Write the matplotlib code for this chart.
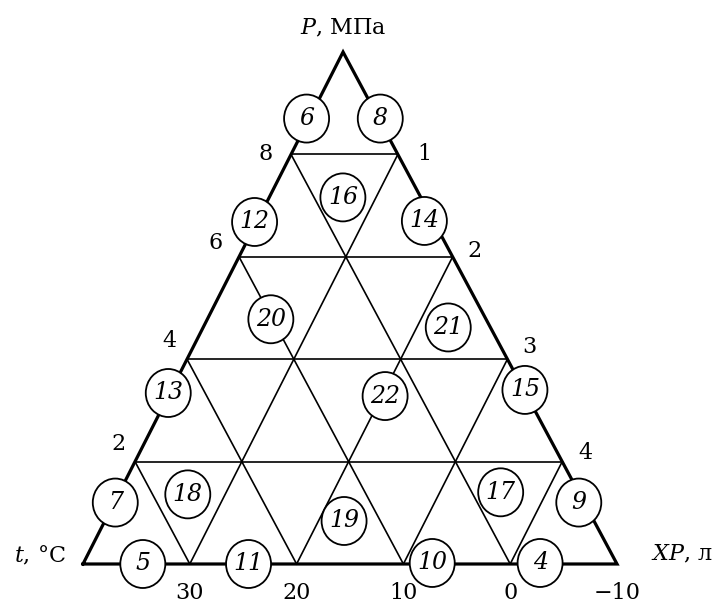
import matplotlib
matplotlib.use('Agg')
import matplotlib.pyplot as plt
from matplotlib.patches import Ellipse
from matplotlib.transforms import Affine2D

plt.rcParams['font.family'] = ['DejaVu Serif']
plt.rcParams['mathtext.fontset'] = 'dejavuserif'

# Triangle grid: 5 divisions on each side
n_div = 5
bottom_labels = ['30', '20', '10', '0', '\u221210']   # t axis, at x = 1..5
left_labels = ['2', '4', '6', '8']                     # P axis, rows 1..4
right_labels = ['4', '3', '2', '1']                    # XP axis, rows 1..4
title_top = r'$P$, МПа'
title_left = r'$t$, °C'
title_right = r'$XP$, л'

# Numbered zones (circle labels) and where they sit, in grid units
zone_ids = [5, 11, 10, 4, 7, 13, 12, 6, 8, 14, 15, 9, 18, 19, 17, 16, 20, 21, 22]
zone_x = [0.56, 1.55, 3.27, 4.28, 0.31, 0.82, 1.65, 2.15, 2.84, 3.24, 4.16, 4.65,
          0.99, 2.45, 3.92, 2.48, 1.79, 3.45, 2.85]
zone_y = [0.0, 0.0, 0.01, 0.01, 0.60, 1.67, 3.34, 4.35, 4.35, 3.35, 1.70, 0.60,
          0.68, 0.42, 0.70, 3.58, 2.39, 2.31, 1.64]

fig = plt.figure(figsize=(7.18, 6.05), dpi=100)
ax = fig.add_axes([0, 0, 1, 1])
# pixel layout: left vertex at (83, 564), 106.8 px per unit across, 102.4 px per row
ax.set_xlim(-83 / 106.8, (718 - 83) / 106.8)
ax.set_ylim((564 - 605) / 102.4, 564 / 102.4)
ax.axis('off')
# the scanned original leans a little to the left towards the top
tr = Affine2D().from_values(1, 0, -0.013, 1, 0, 0) + ax.transData

# outer triangle
ax.plot([0, n_div, n_div / 2, 0], [0, 0, n_div, 0], color='black', lw=2.3,
        solid_joinstyle='miter', zorder=2, transform=tr)

# inner grid
for k in range(1, n_div):
    ax.plot([k / 2, n_div - k / 2], [k, k], color='black', lw=1.2, zorder=1, transform=tr)
    ax.plot([k, k + (n_div - k) / 2], [0, n_div - k], color='black', lw=1.2, zorder=1,
            transform=tr)
    ax.plot([k, k / 2], [0, k], color='black', lw=1.2, zorder=1, transform=tr)

# circled zone numbers
for zid, zx, zy in zip(zone_ids, zone_x, zone_y):
    ax.add_patch(Ellipse(tr.transform((zx, zy)), 45, 48, facecolor='white',
                         edgecolor='black', lw=1.3, zorder=3, transform=None))
    ax.text(zx, zy, str(zid), ha='center', va='center', fontsize=17,
            style='italic', zorder=4, transform=tr)

# tick labels
for i, lab in enumerate(bottom_labels):
    ax.annotate(lab, (i + 1, 0), xycoords=tr, xytext=(0, -21), textcoords='offset points',
                ha='center', va='center', fontsize=16)
left_off = [(-12, 13), (-13, 13), (-17, 10), (-18, 0)]
for i, lab in enumerate(left_labels):
    ax.annotate(lab, ((i + 1) / 2, i + 1), xycoords=tr, xytext=left_off[i],
                textcoords='offset points', ha='center', va='center', fontsize=16)
right_off = [(17, 6), (16, 9), (16, 4), (19, 0)]
for i, lab in enumerate(right_labels):
    ax.annotate(lab, (n_div - (i + 1) / 2, i + 1), xycoords=tr, xytext=right_off[i],
                textcoords='offset points', ha='center', va='center', fontsize=16)

# axis titles
ax.annotate(title_top, (n_div / 2, n_div), xycoords=tr, xytext=(0, 17),
            textcoords='offset points', ha='center', va='center', fontsize=16)
ax.annotate(title_left, (0, 0), xycoords=tr, xytext=(-31, 6), textcoords='offset points',
            ha='center', va='center', fontsize=16)
ax.annotate(title_right, (n_div, 0), xycoords=tr, xytext=(47, 7),
            textcoords='offset points', ha='center', va='center', fontsize=16)

fig.savefig('out.png', dpi=100)
